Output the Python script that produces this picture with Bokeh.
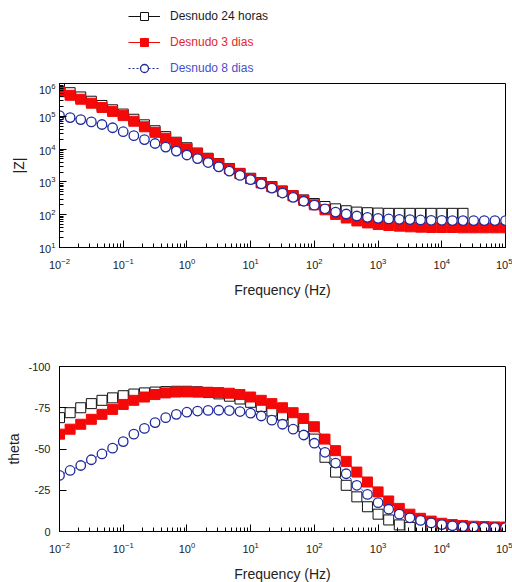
from bokeh.plotting import figure
from bokeh.models import Legend, LegendItem, Range1d, FixedTicker, ColumnDataSource
from bokeh.layouts import column
from bokeh.embed import file_html
from bokeh.resources import INLINE

# ---------------- data ----------------
freq = [0.01, 0.01468, 0.02154, 0.03162, 0.04642, 0.06813,
        0.1, 0.1468, 0.2154, 0.3162, 0.4642, 0.6813,
        1, 1.468, 2.154, 3.162, 4.642, 6.813,
        10, 14.68, 21.54, 31.62, 46.42, 68.13,
        100, 146.8, 215.4, 316.2, 464.2, 681.3,
        1000, 1468, 2154, 3162, 4642, 6813,
        10000, 14680, 21540, 31620, 46420, 68130, 100000]

freq_24h = freq[:39]

z_24h = [708000, 525000, 389000, 288000, 214000, 158000, 117000, 81300, 55000, 36300,
         24000, 16200, 11000, 7590, 5250, 3630, 2570, 1820, 1290, 955,
         724, 525, 380, 282, 219, 178, 151, 132, 120, 115,
         112, 110, 110, 110, 110, 110, 110, 110, 110]

z_3d = [562000, 437000, 331000, 251000, 186000, 141000, 105000, 70800, 47900, 32400,
        21400, 14800, 10200, 7240, 5010, 3550, 2510, 1780, 1260, 933,
        708, 525, 380, 275, 200, 141, 102, 79.4, 64.6, 56.2,
        50.1, 46.8, 44.7, 42.7, 41.7, 40.7, 40.7, 40.7, 39.8, 39.8,
        39.8, 39.8, 39.8]

z_8d = [105000, 91200, 79400, 67600, 56200, 44700, 33900, 25700, 19500, 14800,
        11500, 8710, 6610, 5130, 3890, 2880, 2140, 1580, 1170, 871,
        646, 457, 339, 257, 195, 151, 120, 105, 91.2, 83.2,
        77.6, 74.1, 72.4, 70.8, 69.2, 67.6, 67.6, 66.1, 66.1, 66.1,
        66.1, 66.1, 66.1]

th_24h = [-69, -72, -75, -77.5, -79.5, -81, -82.3, -83.3, -84, -84.5,
          -84.8, -85, -85, -84.7, -84.2, -83.4, -82, -80.3, -78.3, -75.8,
          -73, -70.5, -66.5, -63.5, -56, -45, -36, -28, -21, -15,
          -10.5, -7, -4, -2.5, -1.8, -1.5, -1.2, -1, -1]

th_3d = [-59, -62, -65, -68, -71, -74, -77, -79.5, -81.5, -83,
         -84, -84.5, -84.6, -84.5, -84.4, -84.2, -83.8, -83, -81.5, -79.5,
         -77.5, -75, -72, -68.5, -63.5, -56, -49, -42.5, -36, -30,
         -24, -18.5, -14, -10.5, -8, -6.3, -5, -4.2, -3.6, -3.2,
         -3, -2.8, -2.7]

th_8d = [-34, -37, -40, -43.5, -47, -50.5, -54.5, -59, -62.5, -66,
         -69, -71, -72.3, -73, -73.4, -73.5, -73.3, -72.7, -71.7, -70,
         -67.5, -65, -62, -58.5, -53.5, -48, -41.5, -35, -28, -22.5,
         -17.5, -13.5, -10.5, -8.3, -6.7, -5.2, -4.2, -3.5, -3, -2.7,
         -2.5, -2.4, -2.4]

series_labels = ["Desnudo 24 horas", "Desnudo 3 dias", "Desnudo 8 dias"]
theta_ticks = [-100, -75, -50, -25, 0]
theta_tick_labels = {-100: "-100", -75: "-75", -50: "-50", -25: "-25", 0: "0"}

# ---------------- styling ----------------
FONT = "Liberation Sans"
BLACK = "#111111"
RED = "#f40808"
BLUE = "#1f2a9e"
LEG_COLORS = ["#1a1a1a", "#e3262b", "#4650c8"]


def style_axes(p):
    for ax in (p.xaxis[0], p.yaxis[0]):
        ax.axis_line_color = "black"
        ax.axis_line_width = 1
        ax.major_tick_in = 7
        ax.major_tick_out = 0
        ax.minor_tick_in = 4
        ax.minor_tick_out = 0
        ax.major_tick_line_color = "black"
        ax.minor_tick_line_color = "black"
        ax.major_label_text_font = FONT
        ax.major_label_text_font_size = "11px"
        ax.major_label_text_color = "#222222"
        ax.axis_label_text_font = FONT
        ax.axis_label_text_font_size = "14px"
        ax.axis_label_text_font_style = "normal"
        ax.axis_label_text_color = "#222222"
    p.xaxis.major_label_standoff = 10
    p.xaxis.axis_label_standoff = 10
    p.xgrid.visible = False
    p.ygrid.visible = False
    p.outline_line_color = "black"
    p.outline_line_width = 1
    p.background_fill_color = "white"
    p.border_fill_color = "white"


def add_series(p, fx_list, y_list):
    f24, f3, f8 = fx_list
    y24, y3, y8 = y_list
    s24 = ColumnDataSource(dict(x=f24, y=y24))
    s3 = ColumnDataSource(dict(x=f3, y=y3))
    s8 = ColumnDataSource(dict(x=f8, y=y8))
    l24 = p.line("x", "y", source=s24, line_color=BLACK, line_width=1)
    m24 = p.scatter("x", "y", source=s24, marker="square", size=10,
                    line_color=BLACK, fill_color="white", line_width=1)
    l3 = p.line("x", "y", source=s3, line_color=RED, line_width=1.2)
    m3 = p.scatter("x", "y", source=s3, marker="square", size=10,
                   line_color=RED, fill_color=RED, line_width=1)
    l8 = p.line("x", "y", source=s8, line_color=BLUE, line_width=1, line_dash="2 2")
    m8 = p.scatter("x", "y", source=s8, marker="circle", size=9.5,
                   line_color=BLUE, fill_color="white", line_width=1.3)
    return [[l24, m24], [l3, m3], [l8, m8]]


# ---------------- legend strip (its renderers use the real data but the
# ranges hide them, so only the legend swatches show) ----------------
p0 = figure(width=512, height=83, x_range=Range1d(0, 1), y_range=Range1d(0, 1),
            min_border=0, output_backend="svg", toolbar_location=None)
p0.axis.visible = False
p0.xgrid.visible = False
p0.ygrid.visible = False
p0.outline_line_color = None
leg_groups = add_series(p0, [freq_24h, freq, freq], [z_24h, z_3d, z_8d])
leg_bottoms = [57, 31, 5]
for i in range(3):
    leg = Legend(items=[LegendItem(label=series_labels[i], renderers=leg_groups[i])],
                 location=(69, leg_bottoms[i]), orientation="vertical",
                 padding=3, margin=0, spacing=0,
                 glyph_width=32, glyph_height=20, label_height=20,
                 label_standoff=10,
                 label_text_font=FONT, label_text_font_size="12px",
                 label_text_color=LEG_COLORS[i],
                 border_line_color=None, background_fill_alpha=0)
    p0.add_layout(leg, "center")

# ---------------- top: |Z| ----------------
p1 = figure(x_axis_type="log", y_axis_type="log",
            x_range=Range1d(0.01, 1e5), y_range=Range1d(10, 1e6),
            frame_width=446, frame_height=164,
            min_border_left=59, min_border_right=7,
            min_border_top=0, min_border_bottom=71,
            output_backend="svg", toolbar_location=None)
style_axes(p1)
p1.xaxis.axis_label = "Frequency (Hz)"
p1.yaxis.axis_label = "|Z|"
p1.yaxis.major_label_standoff = 4
p1.yaxis.axis_label_standoff = 9
add_series(p1, [freq_24h, freq, freq], [z_24h, z_3d, z_8d])

# ---------------- bottom: theta ----------------
p2 = figure(x_axis_type="log",
            x_range=Range1d(0.01, 1e5), y_range=Range1d(0, -100),
            frame_width=446, frame_height=165,
            min_border_left=59, min_border_right=7,
            min_border_top=48, min_border_bottom=51,
            output_backend="svg", toolbar_location=None)
style_axes(p2)
p2.xaxis.axis_label = "Frequency (Hz)"
p2.yaxis.axis_label = "theta"
p2.yaxis.ticker = FixedTicker(ticks=theta_ticks)
p2.yaxis.major_label_overrides = theta_tick_labels
p2.yaxis.minor_tick_line_color = None
p2.yaxis.major_label_standoff = 9
p2.yaxis.axis_label_standoff = 3
add_series(p2, [freq_24h, freq, freq], [th_24h, th_3d, th_8d])

layout = column(p0, p1, p2, spacing=0)
open("out.html", "w").write(file_html(layout, INLINE))
